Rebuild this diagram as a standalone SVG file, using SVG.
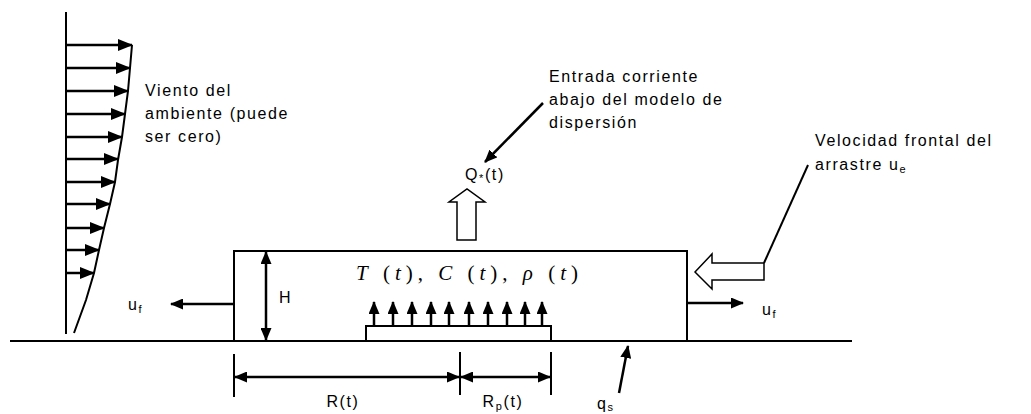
<svg xmlns="http://www.w3.org/2000/svg" width="1031" height="414" viewBox="0 0 1031 414">
<style>
.ln{stroke:#000;stroke-width:2;fill:none}
.th{stroke:#000;stroke-width:2.5;fill:none}
.hol{stroke:#000;stroke-width:1.5;fill:#fff}
.lbl{font-family:"Liberation Sans",Arial,sans-serif;font-size:16px;fill:#000;letter-spacing:1.6px}
.sub{font-size:11px}
.math{font-family:"Liberation Serif","Times New Roman",serif;font-size:21px;fill:#000}
</style>
<defs>
<marker id="ah" viewBox="0 0 13 11" refX="12" refY="5.5" markerWidth="13" markerHeight="11" markerUnits="userSpaceOnUse" orient="auto-start-reverse">
<path d="M0,0 L13,5.5 L0,11 Z" fill="#000"/>
</marker>
<marker id="ahb" viewBox="0 0 15 12" refX="14" refY="6" markerWidth="15" markerHeight="12" markerUnits="userSpaceOnUse" orient="auto-start-reverse">
<path d="M0,0 L15,6 L0,12 Z" fill="#000"/>
</marker>
</defs>
<rect width="1031" height="414" fill="#fff"/>

<g id="ground">
<line x1="10" y1="341" x2="852" y2="341" class="ln" stroke-width="1.5"/>
</g>

<g id="wind-profile">
<line x1="66" y1="12" x2="66" y2="334" class="ln" stroke-width="1.5"/>
<polyline points="132,45 130,68 128,91 125,114 122,137 118,160 115,182 110,204 104,228 99,250 94,273 86,300 74,333" class="ln" stroke-width="1.5"/>
<g class="th" marker-end="url(#ahb)">
<line x1="66" y1="45" x2="132" y2="45"/>
<line x1="66" y1="68" x2="130" y2="68"/>
<line x1="66" y1="91" x2="128" y2="91"/>
<line x1="66" y1="114" x2="125" y2="114"/>
<line x1="66" y1="137" x2="122" y2="137"/>
<line x1="66" y1="159" x2="118" y2="159"/>
<line x1="66" y1="182" x2="115" y2="182"/>
<line x1="66" y1="204" x2="110" y2="204"/>
<line x1="66" y1="228" x2="104" y2="228"/>
<line x1="66" y1="250" x2="99" y2="250"/>
<line x1="66" y1="273" x2="94" y2="273"/>
</g>
<text class="lbl" x="145" y="96">Viento del</text>
<text class="lbl" x="145" y="119">ambiente (puede</text>
<text class="lbl" x="145" y="142">ser cero)</text>
</g>

<g id="cloud-box">
<rect x="234" y="251" width="453" height="90" class="ln"/>
<text class="math" x="356" y="280" textLength="222" lengthAdjust="spacing"><tspan font-style="italic">T</tspan> (<tspan font-style="italic">t</tspan>), <tspan font-style="italic">C</tspan> (<tspan font-style="italic">t</tspan>), <tspan font-style="italic">ρ</tspan> (<tspan font-style="italic">t</tspan>)</text>
</g>

<g id="height">
<line x1="266" y1="252" x2="266" y2="340" class="th" marker-start="url(#ah)" marker-end="url(#ah)"/>
<text class="lbl" x="279" y="303">H</text>
</g>

<g id="source">
<rect x="366" y="326" width="185" height="15" class="ln" stroke-width="1.5"/>
<g class="th" marker-end="url(#ah)">
<line x1="374" y1="326" x2="374" y2="302"/>
<line x1="393" y1="326" x2="393" y2="302"/>
<line x1="412" y1="326" x2="412" y2="302"/>
<line x1="431" y1="326" x2="431" y2="302"/>
<line x1="449" y1="326" x2="449" y2="302"/>
<line x1="469" y1="326" x2="469" y2="302"/>
<line x1="488" y1="326" x2="488" y2="302"/>
<line x1="507" y1="326" x2="507" y2="302"/>
<line x1="525" y1="326" x2="525" y2="302"/>
<line x1="542" y1="326" x2="542" y2="302"/>
</g>
</g>

<g id="outflow">
<polygon points="457,240 457,202 449,202 467,189 485,202 476,202 476,240" class="hol"/>
<text class="lbl" x="465" y="180">Q<tspan class="sub" dy="2">*</tspan><tspan dy="-2">(t)</tspan></text>
</g>

<g id="entrada">
<text class="lbl" x="549" y="82">Entrada corriente</text>
<text class="lbl" x="549" y="105">abajo del modelo de</text>
<text class="lbl" x="549" y="128">dispersión</text>
</g>

<g id="entrainment">
<polygon points="695,272 712,254 712,263 764,263 764,280 712,280 712,289" class="hol"/>
<text class="lbl" x="815" y="146">Velocidad frontal del</text>
<text class="lbl" x="815" y="170">arrastre u<tspan class="sub" dy="3">e</tspan></text>
</g>

<g id="uf-left">
<text class="lbl" x="128" y="310">u<tspan class="sub" dy="3">f</tspan></text>
</g>
<g id="uf-right">
<text class="lbl" x="762" y="315">u<tspan class="sub" dy="3">f</tspan></text>
</g>

<g id="dimensions">
<line x1="234" y1="354" x2="234" y2="397" class="ln" stroke-width="1.5"/>
<line x1="460" y1="352" x2="460" y2="395" class="ln" stroke-width="1.5"/>
<line x1="551" y1="352" x2="551" y2="395" class="ln" stroke-width="1.5"/>
<text class="lbl" x="343" y="407" text-anchor="middle">R(t)</text>
<text class="lbl" x="503" y="407" text-anchor="middle">R<tspan class="sub" dy="3">p</tspan><tspan dy="-3">(t)</tspan></text>
<text class="lbl" x="597" y="409">q<tspan class="sub" dy="2">s</tspan></text>
</g>

<g id="connectors">
<line x1="235" y1="377" x2="459" y2="377" class="th" marker-start="url(#ah)" marker-end="url(#ah)"/>
<line x1="461" y1="377" x2="550" y2="377" class="th" marker-start="url(#ah)" marker-end="url(#ah)"/>
<line x1="233" y1="304" x2="171" y2="304" class="th" marker-end="url(#ah)"/>
<line x1="688" y1="303" x2="743" y2="303" class="th" marker-end="url(#ah)"/>
<line x1="543" y1="103" x2="485" y2="162" class="th" marker-end="url(#ah)"/>
<line x1="619" y1="393" x2="628" y2="346" class="th" marker-end="url(#ah)"/>
<line x1="764" y1="263" x2="808" y2="165" class="ln" stroke-width="1.5"/>
</g>
</svg>
